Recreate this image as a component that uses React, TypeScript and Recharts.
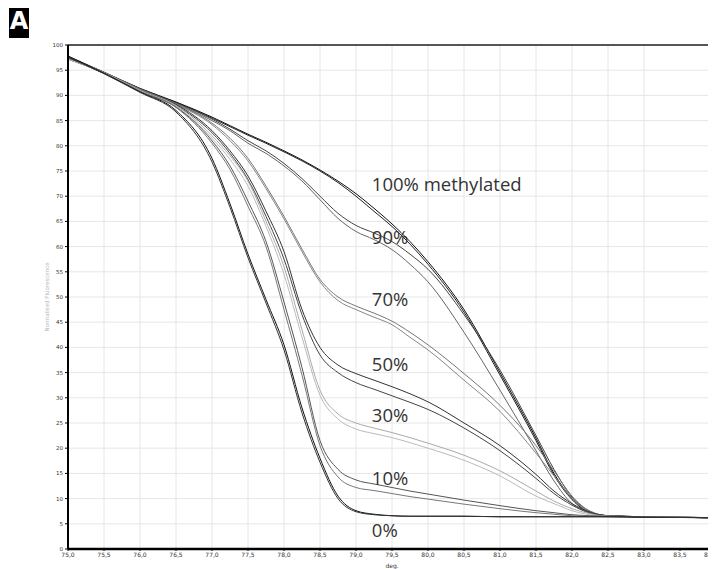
import React from 'react';
import { LineChart, Line, XAxis, YAxis, CartesianGrid, ReferenceLine, ReferenceDot } from 'recharts';

const temps = [75, 75.5, 76, 76.5, 77, 77.25, 77.5, 77.75, 78, 78.25, 78.5, 78.75, 79, 79.25, 79.5, 79.75, 80, 80.5, 81, 81.5, 81.75, 82, 82.25, 82.5, 83, 84];

const m100a = [97.6, 94.6, 91.4, 88.7, 85.7, 84.0, 82.3, 80.7, 79.0, 77.2, 75.2, 73.0, 70.5, 67.6, 64.5, 61.0, 57.0, 47.5, 35.0, 22.0, 15.0, 10.0, 7.3, 6.6, 6.4, 6.2];
const m100b = [97.2, 94.5, 91.3, 88.6, 85.5, 83.8, 82.1, 80.5, 78.8, 77.0, 75.0, 72.7, 70.0, 67.0, 64.0, 60.5, 56.5, 47.0, 34.5, 21.5, 14.6, 9.8, 7.2, 6.6, 6.4, 6.2];
const m90a = [97.8, 94.6, 91.3, 88.5, 85.3, 83.3, 81.0, 79.0, 76.5, 73.5, 70.0, 66.6, 64.2, 62.7, 61.0, 58.5, 55.5, 46.5, 35.5, 22.5, 15.8, 10.3, 7.5, 6.6, 6.4, 6.2];
const m90b = [97.4, 94.5, 91.2, 88.4, 85.0, 83.0, 80.5, 78.5, 76.0, 73.0, 69.3, 65.6, 63.0, 61.4, 59.4, 56.5, 53.0, 43.0, 31.5, 19.5, 13.5, 9.0, 7.2, 6.5, 6.4, 6.2];
const m70a = [97.5, 94.6, 91.2, 88.3, 84.5, 81.5, 77.5, 72.0, 66.0, 59.5, 53.5, 50.0, 48.2, 46.8, 45.2, 43.0, 40.5, 34.8, 28.5, 20.5, 15.5, 10.5, 7.5, 6.6, 6.4, 6.2];
const m70b = [97.3, 94.5, 91.1, 88.2, 84.2, 81.0, 77.0, 71.5, 65.5, 59.0, 53.0, 49.3, 47.5, 46.0, 44.5, 42.0, 39.5, 33.5, 27.3, 19.0, 14.5, 10.0, 7.3, 6.5, 6.4, 6.2];
const m50a = [97.6, 94.5, 91.0, 88.2, 83.0, 79.0, 74.0, 67.0, 59.0, 47.5, 40.0, 36.5, 34.8, 33.5, 32.2, 30.8, 29.2, 25.0, 20.5, 14.8, 11.5, 9.0, 7.3, 6.6, 6.4, 6.2];
const m50b = [97.3, 94.4, 90.9, 88.0, 82.6, 78.5, 73.3, 66.0, 57.5, 46.5, 38.5, 35.0, 33.0, 31.7, 30.4, 29.1, 27.7, 24.0, 19.5, 14.0, 11.0, 8.7, 7.1, 6.5, 6.4, 6.2];
const m30a = [97.5, 94.5, 91.0, 88.0, 82.0, 78.0, 73.0, 65.0, 56.0, 43.5, 31.5, 26.8, 25.0, 24.0, 23.1, 22.1, 21.0, 18.6, 15.5, 11.5, 9.5, 8.0, 7.0, 6.5, 6.4, 6.2];
const m30b = [97.2, 94.4, 90.9, 87.8, 81.5, 77.3, 72.0, 64.0, 54.5, 42.0, 30.5, 25.8, 23.8, 22.9, 22.1, 21.1, 20.0, 17.6, 14.5, 10.5, 9.0, 7.6, 6.8, 6.5, 6.4, 6.2];
const m10a = [97.5, 94.4, 90.8, 87.7, 81.0, 76.0, 69.0, 61.0, 49.0, 36.0, 21.5, 15.8, 13.7, 12.9, 12.2, 11.5, 10.9, 9.7, 8.6, 7.6, 7.2, 6.8, 6.6, 6.5, 6.4, 6.2];
const m10b = [97.6, 94.4, 90.8, 87.6, 80.5, 75.3, 68.0, 60.0, 47.5, 34.5, 20.5, 14.3, 12.2, 11.6, 11.0, 10.4, 9.9, 8.9, 8.0, 7.2, 6.9, 6.6, 6.5, 6.4, 6.4, 6.2];
const m0a = [97.8, 94.4, 90.7, 87.0, 77.5, 68.5, 58.5, 49.5, 40.5, 28.0, 18.0, 10.5, 7.6, 6.9, 6.6, 6.5, 6.5, 6.5, 6.4, 6.4, 6.4, 6.4, 6.4, 6.4, 6.3, 6.2];
const m0b = [97.6, 94.3, 90.6, 86.7, 76.8, 67.8, 57.8, 48.8, 39.5, 27.0, 17.2, 10.0, 7.4, 6.8, 6.6, 6.5, 6.5, 6.5, 6.4, 6.4, 6.4, 6.4, 6.4, 6.4, 6.3, 6.2];

const xTicks = [75, 75.5, 76, 76.5, 77, 77.5, 78, 78.5, 79, 79.5, 80, 80.5, 81, 81.5, 82, 82.5, 83, 83.5, 84];
const yTicks = [0, 5, 10, 15, 20, 25, 30, 35, 40, 45, 50, 55, 60, 65, 70, 75, 80, 85, 90, 95, 100];

const annotationLabels = ['100% methylated', '90%', '70%', '50%', '30%', '10%', '0%'];
const annotationX = [79.22, 79.22, 79.22, 79.22, 79.22, 79.22, 79.22];
const annotationY = [72.4, 61.8, 49.5, 36.6, 26.5, 14.0, 3.6];

const seriesList = [
  { key: 'm100a', values: m100a, color: '#111111' },
  { key: 'm100b', values: m100b, color: '#222222' },
  { key: 'm90a', values: m90a, color: '#444444' },
  { key: 'm90b', values: m90b, color: '#666666' },
  { key: 'm70a', values: m70a, color: '#777777' },
  { key: 'm70b', values: m70b, color: '#888888' },
  { key: 'm50a', values: m50a, color: '#333333' },
  { key: 'm50b', values: m50b, color: '#444444' },
  { key: 'm30a', values: m30a, color: '#aaaaaa' },
  { key: 'm30b', values: m30b, color: '#bbbbbb' },
  { key: 'm10a', values: m10a, color: '#555555' },
  { key: 'm10b', values: m10b, color: '#777777' },
  { key: 'm0a', values: m0a, color: '#111111' },
  { key: 'm0b', values: m0b, color: '#333333' },
];

const data = temps.map((t, i) => {
  const row: Record<string, number> = { t };
  seriesList.forEach((s) => {
    row[s.key] = s.values[i];
  });
  return row;
});

const fmtX = (v: number) => v.toFixed(1).replace('.', ',');

const YLabel = (props: any) => {
  const vb = props.viewBox || {};
  const cy = vb.y + vb.height / 2;
  return (
    <text
      x={39}
      y={cy}
      transform={`rotate(-90, 39, ${cy})`}
      textAnchor="middle"
      dominantBaseline="central"
      fontSize={5.5}
      fill="#b5b5b5"
      fontFamily="DejaVu Sans, sans-serif"
    >
      Normalised Fluorescence
    </text>
  );
};

export default function App() {
  return (
    <div style={{ position: 'relative', width: 708, height: 561 }}>
      <div
        style={{
          position: 'absolute',
          left: 1,
          top: -3,
          width: 20,
          height: 33,
          background: '#000',
          color: '#fff',
          fontFamily: 'DejaVu Sans, sans-serif',
          fontWeight: 'bold',
          fontSize: 24,
          lineHeight: '33px',
          textAlign: 'center',
        }}
      >
        A
      </div>
      <LineChart width={708} height={561} data={data} margin={{ top: 37, right: 0, bottom: 0, left: 0 }}>
        <CartesianGrid stroke="#e6e6e6" strokeWidth={1} />
        <XAxis
          dataKey="t"
          type="number"
          domain={[75, 84]}
          ticks={xTicks}
          tickFormatter={fmtX}
          height={20}
          tickSize={2}
          tickLine={{ stroke: '#000' }}
          axisLine={{ stroke: '#000', strokeWidth: 2.5 }}
          tick={{ fontSize: 6, fill: '#333', fontFamily: 'DejaVu Sans, sans-serif' }}
          allowDataOverflow
          label={{ value: 'deg.', position: 'insideBottom', offset: 1, fontSize: 6, fill: '#333', fontFamily: 'DejaVu Sans, sans-serif' }}
        />
        <YAxis
          type="number"
          domain={[0, 100]}
          ticks={yTicks}
          width={60}
          tickSize={3}
          tickLine={{ stroke: '#000' }}
          axisLine={{ stroke: '#000', strokeWidth: 2 }}
          tick={{ fontSize: 5.5, fill: '#333', fontFamily: 'DejaVu Sans, sans-serif' }}
          label={<YLabel />}
        />
        <ReferenceLine y={100} stroke="#222" strokeWidth={1.5} />
        {seriesList.map((s) => (
          <Line
            key={s.key}
            dataKey={s.key}
            type="monotone"
            stroke={s.color}
            strokeWidth={1}
            dot={false}
            isAnimationActive={false}
          />
        ))}
        {annotationLabels.map((lab, i) => (
          <ReferenceDot
            key={lab}
            x={annotationX[i]}
            y={annotationY[i]}
            r={0}
            fill="none"
            stroke="none"
            label={{
              value: lab,
              position: 'right',
              offset: 0,
              fontSize: 18.5,
              fill: '#333',
              fontFamily: 'Open Sans, sans-serif',
            }}
          />
        ))}
      </LineChart>
    </div>
  );
}
